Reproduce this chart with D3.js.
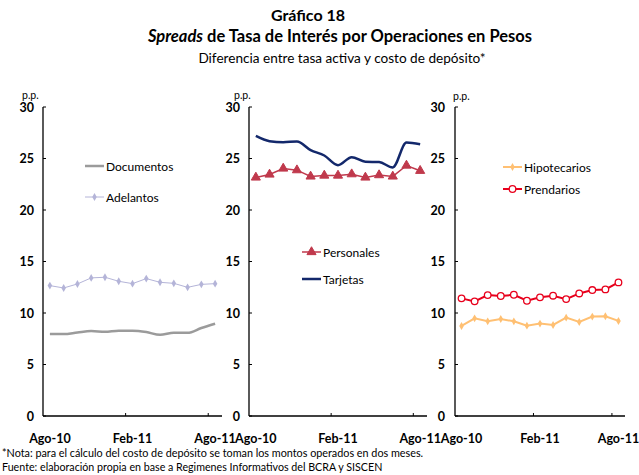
<!DOCTYPE html>
<html>
<head>
<meta charset="utf-8">
<script src="https://cdn.jsdelivr.net/npm/d3@7"></script>
<style>
  body { margin: 0; background: #fff; }
  svg text { font-family: Lato, "Open Sans", sans-serif; fill: #000; }
</style>
</head>
<body>
<svg id="chart" width="639" height="475"></svg>
<script>
// months Ago-10 .. Ago-11
const months = ['Ago-10', 'Sep-10', 'Oct-10', 'Nov-10', 'Dic-10', 'Ene-11', 'Feb-11',
  'Mar-11', 'Abr-11', 'May-11', 'Jun-11', 'Jul-11', 'Ago-11'];
const tickLabels = ['Ago-10', 'Feb-11', 'Ago-11'];
const yTicks = [0, 5, 10, 15, 20, 25, 30];

const documentos = [7.95, 7.95, 8.11, 8.25, 8.18, 8.28, 8.28, 8.15, 7.88, 8.08, 8.08, 8.54, 8.96];
const adelantos = [12.66, 12.43, 12.82, 13.41, 13.47, 13.08, 12.85, 13.34, 12.98, 12.88, 12.49, 12.78, 12.85];
const personales = [23.16, 23.45, 24.03, 23.87, 23.26, 23.35, 23.35, 23.48, 23.16, 23.39, 23.26, 24.32, 23.81];
const tarjetas = [27.19, 26.68, 26.58, 26.65, 25.81, 25.29, 24.35, 25.13, 24.68, 24.65, 24.13, 26.55, 26.39];
const hipotecarios = [8.74, 9.48, 9.19, 9.42, 9.19, 8.77, 8.97, 8.84, 9.55, 9.13, 9.65, 9.68, 9.23];
const prendarios = [11.42, 11.13, 11.74, 11.65, 11.77, 11.19, 11.52, 11.68, 11.35, 11.90, 12.23, 12.29, 12.97];

const svg = d3.select('#chart');

// titles
svg.append('text').attr('x', 308).attr('y', 21).attr('text-anchor', 'middle')
  .attr('font-size', 16).attr('font-weight', 'bold').text('Gráfico 18');
const t2 = svg.append('text').attr('x', 340).attr('y', 42).attr('text-anchor', 'middle')
  .attr('font-size', 16.5).attr('font-weight', 'bold');
t2.append('tspan').attr('font-style', 'italic').text('Spreads');
t2.append('tspan').text('  de Tasa de Interés por Operaciones en Pesos');
svg.append('text').attr('x', 342).attr('y', 63).attr('text-anchor', 'middle')
  .attr('font-size', 13.6).text('Diferencia entre tasa activa y costo de depósito*');

// footnotes
svg.append('text').attr('x', 2).attr('y', 457).attr('font-size', 10.8)
  .text('*Nota: para el cálculo del costo de depósito se toman los montos operados en dos meses.');
svg.append('text').attr('x', 2).attr('y', 471).attr('font-size', 10.7)
  .text('Fuente: elaboración propia en base a Regimenes Informativos del BCRA y SISCEN');

const plotTop = 107, plotBottom = 416;

const panels = [
  { x0: 43, x1: 222, ppx: 22, ppy: 99, labelX: 34,
    series: [
      { name: 'Documentos', data: documentos, color: '#9b9b9b', width: 2.5, curve: true, marker: null, ly: 166 },
      { name: 'Adelantos', data: adelantos, color: '#b4b4d8', width: 1, marker: 'diamond', ly: 197 }
    ], lx: 85 },
  { x0: 249, x1: 427, ppx: 234, ppy: 99, labelX: 240,
    series: [
      { name: 'Personales', data: personales, color: '#c0394c', width: 1.5, marker: 'triangle', ly: 252 },
      { name: 'Tarjetas', data: tarjetas, color: '#13286b', width: 2.5, curve: true, marker: null, ly: 279 }
    ], lx: 302 },
  { x0: 455, x1: 625, ppx: 453, ppy: 100, labelX: 445,
    series: [
      { name: 'Hipotecarios', data: hipotecarios, color: '#ffc073', width: 2, marker: 'diamond', ly: 167 },
      { name: 'Prendarios', data: prendarios, color: '#e8001c', width: 2, marker: 'circle', ly: 189 }
    ], lx: 503 }
];

function drawMarker(g, type, color, cx, cy) {
  if (type === 'diamond') {
    g.append('path').attr('d', d3.symbol(d3.symbolDiamond, 18)())
      .attr('transform', `translate(${cx},${cy})`).attr('fill', color);
  } else if (type === 'triangle') {
    g.append('path').attr('d', d3.symbol(d3.symbolTriangle, 36)())
      .attr('transform', `translate(${cx},${cy})`).attr('fill', color).attr('stroke', color);
  } else if (type === 'circle') {
    g.append('circle').attr('cx', cx).attr('cy', cy).attr('r', 3.3)
      .attr('fill', '#fff').attr('stroke', color).attr('stroke-width', 1.3);
  }
}

panels.forEach(p => {
  const g = svg.append('g');
  const x = d3.scaleBand().domain(months).range([p.x0, p.x1]);
  const y = d3.scaleLinear().domain([0, 30]).range([plotBottom, plotTop]);

  // y axis
  g.append('line').attr('x1', p.x0).attr('x2', p.x0).attr('y1', plotTop).attr('y2', plotBottom)
    .attr('stroke', '#000').attr('stroke-width', 1.3);
  yTicks.forEach(v => {
    g.append('line').attr('x1', p.x0).attr('x2', p.x0 + 3).attr('y1', y(v)).attr('y2', y(v))
      .attr('stroke', '#000');
    g.append('text').attr('x', p.labelX).attr('y', y(v) + 4.5).attr('text-anchor', 'end')
      .attr('font-size', 12.5).attr('font-weight', 'bold').text(v);
  });
  g.append('text').attr('x', p.ppx).attr('y', p.ppy).attr('font-size', 10.5).text('p.p.');

  // x axis
  g.append('line').attr('x1', p.x0).attr('x2', p.x1).attr('y1', plotBottom).attr('y2', plotBottom)
    .attr('stroke', '#000').attr('stroke-width', 1.3);
  [6, 12].forEach(i => {
    const bx = x(months[i]);
    g.append('line').attr('x1', bx).attr('x2', bx).attr('y1', plotBottom).attr('y2', plotBottom - 3)
      .attr('stroke', '#000');
  });
  tickLabels.forEach(m => {
    g.append('text').attr('x', x(m) + x.bandwidth() / 2).attr('y', 443)
      .attr('text-anchor', 'middle').attr('font-size', 12.5).attr('font-weight', 'bold').text(m);
  });

  // series
  p.series.forEach(s => {
    const line = d3.line()
      .x((d, i) => x(months[i]) + x.bandwidth() / 2)
      .y(d => y(d))
      .curve(s.curve ? d3.curveMonotoneX : d3.curveLinear);
    g.append('path').datum(s.data).attr('d', line).attr('fill', 'none')
      .attr('stroke', s.color).attr('stroke-width', s.width);
    if (s.marker) {
      s.data.forEach((d, i) => drawMarker(g, s.marker, s.color, x(months[i]) + x.bandwidth() / 2, y(d)));
    }
    // legend
    g.append('line').attr('x1', p.lx).attr('x2', p.lx + 19).attr('y1', s.ly).attr('y2', s.ly)
      .attr('stroke', s.color).attr('stroke-width', s.width);
    if (s.marker) drawMarker(g, s.marker, s.color, p.lx + 9.5, s.ly);
    g.append('text').attr('x', p.lx + 21).attr('y', s.ly + 4.5).attr('font-size', 12).text(s.name);
  });
});
</script>
</body>
</html>
